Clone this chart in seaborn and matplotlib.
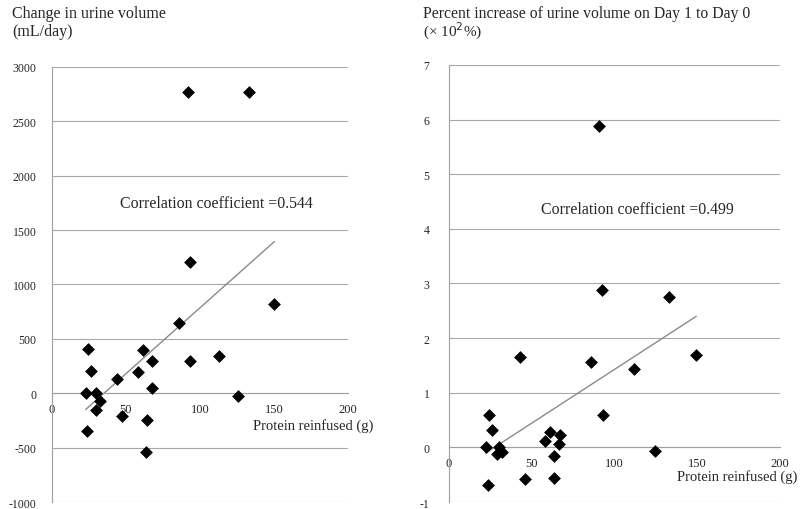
import numpy as np
import matplotlib
matplotlib.use("Agg")
import matplotlib.pyplot as plt
import seaborn as sns

# left panel: change in urine volume (mL/day) vs protein reinfused (g)
protein_left = [22.8, 24.4, 26.2, 23.7, 30.0, 30.0, 32.3, 43.6, 47.0, 58.2, 61.2, 67.7,
                67.3, 63.9, 63.4, 86.0, 93.2, 93.2, 112.9, 125.5, 150.3, 91.7, 133.4]
volume_change = [0, 408, 202, -343, 0, -156, -67, 132, -212, 199, 396, 300,
                 49, -248, -543, 647, 1211, 300, 347, -21, 822, 2774, 2768]

# right panel: percent increase (x10^2 %) vs protein reinfused (g)
protein_right = [22.2, 24.2, 26.0, 23.6, 30.0, 29.0, 32.3, 43.1, 46.2, 57.7, 60.9, 67.3,
                 66.5, 63.5, 63.3, 85.7, 92.5, 93.0, 111.7, 124.6, 149.4, 132.7, 90.7]
pct_increase = [0, 0.59, 0.32, -0.68, 0, -0.12, -0.09, 1.65, -0.58, 0.12, 0.28, 0.22,
                0.07, -0.16, -0.56, 1.56, 2.88, 0.59, 1.44, -0.07, 1.70, 2.76, 5.89]

x_ticks = [0, 50, 100, 150, 200]
left_yticks = list(range(-1000, 3001, 500))
right_yticks = list(range(-1, 8))

sns.set_style("white")
plt.rcParams['font.family'] = ['Liberation Serif', 'DejaVu Serif']
plt.rcParams['axes.unicode_minus'] = False

fig = plt.figure(figsize=(8.07, 5.10), dpi=100)
ax1 = fig.add_axes([0.0644, 0.0137, 0.3668, 0.8530])
ax2 = fig.add_axes([0.5564, 0.0137, 0.4102, 0.8570])


def draw_panel(ax, x, y, yticks, r_text, text_xy, label_x, label_y, ypad):
    sns.regplot(x=x, y=y, ax=ax, ci=None, scatter=False,
                line_kws={'color': '#8a8a8a', 'lw': 1.0})
    sns.scatterplot(x=x, y=y, ax=ax, marker='D', color='black', s=36,
                    edgecolor='black', linewidth=0.5, zorder=3)
    ax.set_xlim(0, 200)
    ax.set_ylim(yticks[0], yticks[-1])
    ax.set_xticks(x_ticks)
    ax.set_yticks(yticks)
    ax.grid(axis='y', color='#a8a8a8', lw=0.8)
    ax.set_axisbelow(True)
    for s in ['top', 'right']:
        ax.spines[s].set_visible(False)
    ax.spines['bottom'].set_position(('data', 0))
    ax.spines['bottom'].set_color('#a0a0a0')
    ax.spines['left'].set_color('#a0a0a0')
    ax.spines['bottom'].set_linewidth(0.8)
    ax.spines['left'].set_linewidth(0.8)
    ax.tick_params(axis='x', direction='in', length=3, color='#a0a0a0',
                   labelsize=9, pad=7)
    ax.tick_params(axis='y', length=0, labelsize=8.5, pad=ypad)
    ax.set_xlabel('')
    ax.set_ylabel('')
    ax.text(text_xy[0], text_xy[1], r_text, transform=ax.transData,
            ha='center', va='center', fontsize=11.4)
    ax.text(label_x, label_y, 'Protein reinfused (g)', transform=ax.transAxes,
            ha='left', va='center', fontsize=10.5, clip_on=False)


draw_panel(ax1, protein_left, volume_change, left_yticks,
           'Correlation coefficient =0.544', (110.8, 1747), 0.678, 0.178, 11)
draw_panel(ax2, protein_right, pct_increase, right_yticks,
           'Correlation coefficient =0.499', (113.9, 4.37), 0.688, 0.06, 14)

fig.text(12 / 807, 1 - 14 / 510, 'Change in urine volume', ha='left', va='center',
         fontsize=11.5)
fig.text(12 / 807, 1 - 32 / 510, '(mL/day)', ha='left', va='center', fontsize=11.5)
fig.text(423 / 807, 1 - 14 / 510, 'Percent increase of urine volume on Day 1 to Day 0',
         ha='left', va='center', fontsize=11.3)
fig.text(423 / 807, 1 - 31 / 510, '(\u00d7 10$^{2}$%)', ha='left', va='center',
         fontsize=11)

fig.savefig('out.png', dpi=100)
